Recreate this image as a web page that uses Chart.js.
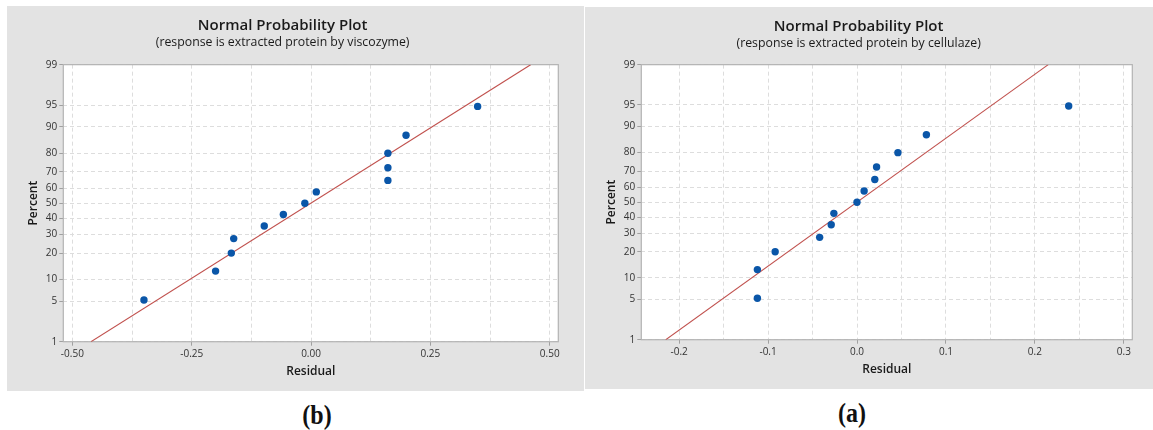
<!DOCTYPE html>
<html>
<head>
<meta charset="utf-8">
<script src="https://cdn.jsdelivr.net/npm/chart.js@4.4.1/dist/chart.umd.min.js"></script>
<style>
  html, body { margin: 0; padding: 0; background: #ffffff; }
  body { width: 1153px; height: 430px; position: relative; overflow: hidden; }
  .panel { position: absolute; background: #e3e3e3; }
  .panel canvas { display: block; }
  .tag { position: absolute; font-family: "Liberation Serif", serif; font-weight: bold; font-size: 24px; line-height: 28px; color: #111; text-align: center; width: 60px; transform: scaleY(1.15); }
</style>
</head>
<body>
<div class="panel" id="pb" style="left:7px;top:6px;width:577px;height:385px;"><canvas id="cb" width="577" height="385"></canvas></div>
<div class="panel" id="pa" style="left:585px;top:7px;width:568px;height:382px;"><canvas id="ca" width="568" height="382"></canvas></div>
<div class="tag" style="left:287px;top:401px;">(b)</div>
<div class="tag" style="left:822px;top:399px;">(a)</div>
<script>
// ---------------- data ----------------
const titleText = 'Normal Probability Plot';
const subtitleB = '(response is extracted protein by viscozyme)';
const subtitleA = '(response is extracted protein by cellulaze)';
const xTitle = 'Residual';
const yTitle = 'Percent';

// percent tick labels of the probability axis
const percentTicks = [1, 5, 10, 20, 30, 40, 50, 60, 70, 80, 90, 95, 99];

// plotted percent of each ordered residual
const percentB = [5.2, 12.7, 20.1, 27.6, 35.1, 42.5, 50.0, 57.5, 64.9, 72.4, 79.9, 87.3, 94.8];
const residualB = [-0.350, -0.200, -0.167, -0.162, -0.098, -0.058, -0.013, 0.011, 0.161, 0.161, 0.161, 0.199, 0.349];
const fitLineXB = [-0.461, 0.460];
const fitLineYB = [1, 99];

const percentA = [5.2, 12.7, 20.1, 27.6, 35.1, 42.5, 50.0, 57.5, 64.9, 72.4, 79.9, 87.3, 94.8];
const residualA = [-0.112, -0.112, -0.092, -0.042, -0.029, -0.026, 0.000, 0.008, 0.020, 0.022, 0.046, 0.078, 0.238];
const fitLineXA = [-0.215, 0.215];
const fitLineYA = [1, 99];

// x axes: grid positions and labelled ticks
const xGridB = [-0.5, -0.375, -0.25, -0.125, 0, 0.125, 0.25, 0.375, 0.5];
const xTickValuesB = [-0.5, -0.25, 0, 0.25, 0.5];
const xTickLabelsB = ['-0.50', '-0.25', '0.00', '0.25', '0.50'];
const xRangeB = [-0.519, 0.518];

const xGridA = [-0.2, -0.15, -0.1, -0.05, 0, 0.05, 0.1, 0.15, 0.2, 0.25, 0.3];
const xTickValuesA = [-0.2, -0.1, 0, 0.1, 0.2, 0.3];
const xTickLabelsA = ['-0.2', '-0.1', '0.0', '0.1', '0.2', '0.3'];
const xRangeA = [-0.2425, 0.3095];

// ---------------- normal probability scale ----------------
function normInv(pct) {
  const p = pct / 100;
  const a = [-3.969683028665376e+01, 2.209460984245205e+02, -2.759285104469687e+02, 1.383577518672690e+02, -3.066479806614716e+01, 2.506628277459239e+00];
  const b = [-5.447609879822406e+01, 1.615858368580409e+02, -1.556989798598866e+02, 6.680131188771972e+01, -1.328068155288572e+01];
  const c = [-7.784894002430293e-03, -3.223964580411365e-01, -2.400758277161838e+00, -2.549732539343734e+00, 4.374664141464968e+00, 2.938163982698783e+00];
  const d = [7.784695709041462e-03, 3.224671290700398e-01, 2.445134137142996e+00, 3.754408661907416e+00];
  const pl = 0.02425, ph = 1 - pl;
  let q, r;
  if (p < pl) {
    q = Math.sqrt(-2 * Math.log(p));
    return (((((c[0]*q+c[1])*q+c[2])*q+c[3])*q+c[4])*q+c[5]) / ((((d[0]*q+d[1])*q+d[2])*q+d[3])*q+1);
  } else if (p <= ph) {
    q = p - 0.5; r = q * q;
    return (((((a[0]*r+a[1])*r+a[2])*r+a[3])*r+a[4])*r+a[5])*q / (((((b[0]*r+b[1])*r+b[2])*r+b[3])*r+b[4])*r+1);
  } else {
    q = Math.sqrt(-2 * Math.log(1 - p));
    return -(((((c[0]*q+c[1])*q+c[2])*q+c[3])*q+c[4])*q+c[5]) / ((((d[0]*q+d[1])*q+d[2])*q+d[3])*q+1);
  }
}
function normCdf(z) {
  const t = 1 / (1 + 0.2316419 * Math.abs(z));
  const dd = 0.3989423 * Math.exp(-z * z / 2);
  let p = dd * t * (0.3193815 + t * (-0.3565638 + t * (1.781478 + t * (-1.821256 + t * 1.330274))));
  return (z > 0 ? 1 - p : p) * 100;
}

class ProbabilityScale extends Chart.Scale {
  determineDataLimits() {
    this.min = this.options.min;
    this.max = this.options.max;
  }
  buildTicks() {
    return percentTicks.map(v => ({ value: v }));
  }
  getLabelForValue(v) { return String(v); }
  configure() {
    super.configure();
    this._zStart = normInv(this.min);
    this._zRange = normInv(this.max) - this._zStart;
  }
  getPixelForValue(v) {
    return this.getPixelForDecimal((normInv(v) - this._zStart) / this._zRange);
  }
  getValueForPixel(px) {
    return normCdf(this._zStart + this.getDecimalForPixel(px) * this._zRange);
  }
}
ProbabilityScale.id = 'probability';
ProbabilityScale.defaults = {};
Chart.register(ProbabilityScale);

// ---------------- plugins ----------------
const plotFrame = {
  id: 'plotFrame',
  beforeDraw(chart) {
    const { ctx, chartArea: a } = chart;
    ctx.save();
    ctx.fillStyle = '#ffffff';
    ctx.fillRect(a.left, a.top, a.right - a.left, a.bottom - a.top);
    ctx.restore();
  },
  beforeDatasetsDraw(chart) {
    const { ctx, chartArea: a } = chart;
    ctx.save();
    ctx.strokeStyle = '#b3b3b3';
    ctx.lineWidth = 1.2;
    ctx.strokeRect(a.left, a.top, a.right - a.left, a.bottom - a.top);
    ctx.restore();
  }
};

const FONT = '"Open Sans", "Noto Sans", sans-serif';

function makeChart(canvasId, cfg) {
  const isLabelled = v => cfg.tickValues.some(t => Math.abs(t - v) < 1e-9);
  const labelFor = v => {
    const i = cfg.tickValues.findIndex(t => Math.abs(t - v) < 1e-9);
    return i >= 0 ? cfg.tickLabels[i] : '';
  };
  return new Chart(document.getElementById(canvasId), {
    type: 'scatter',
    data: {
      datasets: [
        {
          label: 'fit',
          data: cfg.lineX.map((x, i) => ({ x: x, y: cfg.lineY[i] })),
          showLine: true,
          borderColor: '#c0504d',
          borderWidth: 1.1,
          pointRadius: 0,
          order: 2
        },
        {
          label: 'residuals',
          data: cfg.res.map((x, i) => ({ x: x, y: cfg.pct[i] })),
          backgroundColor: '#0a56a8',
          borderColor: '#0a56a8',
          borderWidth: 0,
          pointRadius: 3.7,
          order: 1
        }
      ]
    },
    options: {
      responsive: false,
      animation: false,
      events: [],
      layout: { padding: { left: 0, right: cfg.padRight, top: 0, bottom: 0 } },
      plugins: {
        legend: { display: false },
        tooltip: { enabled: false },
        title: {
          display: true, text: titleText, color: '#1a1a1a',
          font: { family: FONT, size: 15, weight: '600', lineHeight: 1.2 },
          padding: { top: 10.5, bottom: 0 }
        },
        subtitle: {
          display: true, text: cfg.subtitle, color: '#1a1a1a',
          font: { family: FONT, size: 12.3, weight: '500', lineHeight: 1.2 },
          padding: { top: 0.8, bottom: cfg.subBottom }
        }
      },
      scales: {
        x: {
          type: 'linear',
          min: cfg.xRange[0], max: cfg.xRange[1],
          afterBuildTicks: s => { s.ticks = cfg.grid.map(v => ({ value: v })); },
          afterFit: s => { s.height = 49.3; },
          ticks: {
            autoSkip: false, maxRotation: 0, padding: 2,
            color: '#333333', font: { family: FONT, size: 10 },
            callback: v => labelFor(v)
          },
          grid: {
            color: '#dddddd', lineWidth: 1, drawTicks: true, tickLength: 4,
            tickColor: c => (c.tick && isLabelled(c.tick.value)) ? '#a0a0a0' : 'rgba(0,0,0,0)'
          },
          border: { display: false, dash: [4, 3] },
          title: {
            display: true, text: xTitle, color: '#1a1a1a',
            font: { family: FONT, size: 12, weight: '600', lineHeight: 1.2 },
            padding: { top: 0, bottom: 12.3 }
          }
        },
        y: {
          type: 'probability',
          min: 1, max: 99,
          afterFit: s => { s.width = 56.3; },
          ticks: {
            padding: 2, color: '#333333', font: { family: FONT, size: 10 },
            callback: v => String(v)
          },
          grid: { color: '#dddddd', lineWidth: 1, drawTicks: true, tickLength: 4, tickColor: '#a0a0a0' },
          border: { display: false, dash: [4, 3] },
          title: {
            display: true, text: yTitle, color: '#1a1a1a',
            font: { family: FONT, size: 12, weight: '600', lineHeight: 1.2 },
            padding: { top: 19.1, bottom: 0 }
          }
        }
      }
    },
    plugins: [plotFrame]
  });
}

makeChart('cb', {
  subtitle: subtitleB, res: residualB, pct: percentB, lineX: fitLineXB, lineY: fitLineYB,
  grid: xGridB, tickValues: xTickValuesB, tickLabels: xTickLabelsB, xRange: xRangeB,
  padRight: 25.7, subBottom: 14.6
});
makeChart('ca', {
  subtitle: subtitleA, res: residualA, pct: percentA, lineX: fitLineXA, lineY: fitLineYA,
  grid: xGridA, tickValues: xTickValuesA, tickLabels: xTickLabelsA, xRange: xRangeA,
  padRight: 20.7, subBottom: 13.6
});
</script>
</body>
</html>
